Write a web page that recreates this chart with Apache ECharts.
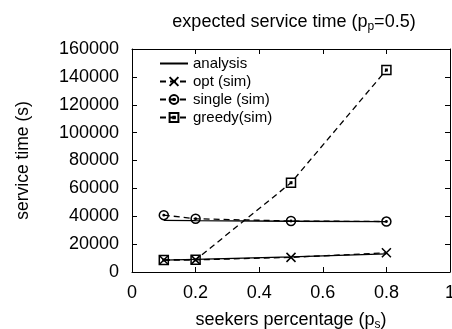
<!DOCTYPE html>
<html>
<head>
<meta charset="utf-8">
<script src="https://cdn.jsdelivr.net/npm/echarts@6/dist/echarts.min.js"></script>
<style>
  html, body { margin: 0; padding: 0; background: #fff; }
  #chart { width: 452px; height: 329px; }
</style>
</head>
<body>
<div id="chart"></div>
<script>
// 数据
var seekers = [0.1, 0.2, 0.5, 0.8];
var analysisHigh = [37000, 36800, 36400, 36200];
var analysisLow = [8500, 9000, 10800, 13000];
var optSim = [8600, 8700, 10500, 13800];
var singleSim = [40800, 38200, 36600, 36200];
var greedySim = [8600, 8700, 64000, 145000];

var FONT = 'Liberation Sans';

function pairs(values) {
  return seekers.map(function (x, i) { return [x, values[i]]; });
}

// 标记形状
var crossSym = 'path://M0,0L10,10M10,0L0,10';
var circleSym = 'path://M10,5A5,5 0 1,1 0,5A5,5 0 1,1 10,5Z M5.8,5A0.8,0.8 0 1,1 4.2,5A0.8,0.8 0 1,1 5.8,5Z';
var squareSym = 'path://M0,0H10V10H0Z M4.2,4.2H5.8V5.8H4.2Z';

function simSeries(name, values, symbol) {
  return {
    name: name,
    type: 'line',
    data: pairs(values),
    symbol: symbol,
    symbolSize: 9,
    showAllSymbol: true,
    lineStyle: { color: '#000', width: 1.3, type: [6, 4] },
    itemStyle: { color: 'none', borderColor: '#000', borderWidth: 1.5 },
    emphasis: { disabled: true },
    z: 3
  };
}

function analysisSeries(values) {
  return {
    name: 'analysis',
    type: 'line',
    data: pairs(values),
    symbol: 'none',
    lineStyle: { color: '#000', width: 1.3, type: 'solid' },
    itemStyle: { color: '#000' },
    emphasis: { disabled: true },
    z: 2
  };
}

function axisLine() {
  return { show: true, onZero: false, lineStyle: { color: '#000', width: 1 } };
}
function tick() {
  return { show: true, inside: true, length: 5, lineStyle: { color: '#000', width: 1 } };
}

var chart = echarts.init(document.getElementById('chart'));
var labelStyle = { color: '#000', fontFamily: FONT, fontSize: 18 };
var subRich = {
  a: { fontFamily: FONT, fontSize: 18, fontWeight: 'normal', color: '#000', lineHeight: 22 },
  s: { fontFamily: FONT, fontSize: 12, fontWeight: 'normal', color: '#000', lineHeight: 13, verticalAlign: 'bottom' }
};

chart.setOption({
  animation: false,
  backgroundColor: '#fff',
  title: {
    text: '{a|expected service time (p}{s|p}{a|=0.5)}',
    left: 289,
    top: 6,
    textAlign: 'center',
    textStyle: { fontWeight: 'normal', rich: subRich }
  },
  grid: { left: 132, right: 2, top: 49, bottom: 57, outerBoundsMode: 'none', containLabel: false },
  legend: {
    orient: 'vertical',
    left: 154,
    top: 51,
    itemWidth: 28,
    itemHeight: 11,
    itemGap: 3,
    textStyle: { fontFamily: FONT, fontSize: 15, color: '#000', padding: [0, 0, 0, 0] },
    data: [
      { name: 'analysis', itemStyle: { opacity: 0 } },
      'opt (sim)', 'single (sim)', 'greedy(sim)'
    ]
  },
  xAxis: [{
    type: 'value',
    min: 0, max: 1, interval: 0.2,
    position: 'bottom',
    axisLine: axisLine(),
    axisTick: tick(),
    splitLine: { show: false },
    axisLabel: Object.assign({ margin: 12 }, labelStyle),
    name: '{a|seekers percentage (p}{s|s}{a|)}',
    nameLocation: 'middle',
    nameGap: 37,
    nameTextStyle: { rich: subRich }
  }, {
    type: 'value',
    min: 0, max: 1, interval: 0.2,
    position: 'top',
    axisLine: axisLine(),
    axisTick: tick(),
    splitLine: { show: false },
    axisLabel: { show: false }
  }],
  yAxis: [{
    type: 'value',
    min: 0, max: 160000, interval: 20000,
    position: 'left',
    axisLine: axisLine(),
    axisTick: tick(),
    splitLine: { show: false },
    axisLabel: Object.assign({ margin: 13, formatter: function (v) { return String(v); } }, labelStyle),
    name: 'service time (s)',
    nameLocation: 'middle',
    nameGap: 100,
    nameTextStyle: { fontFamily: FONT, fontSize: 17.5, color: '#000' }
  }, {
    type: 'value',
    min: 0, max: 160000, interval: 20000,
    position: 'right',
    axisLine: axisLine(),
    axisTick: tick(),
    splitLine: { show: false },
    axisLabel: { show: false }
  }],
  series: [
    analysisSeries(analysisHigh),
    analysisSeries(analysisLow),
    simSeries('opt (sim)', optSim, crossSym),
    simSeries('single (sim)', singleSim, circleSym),
    simSeries('greedy(sim)', greedySim, squareSym)
  ]
});
</script>
</body>
</html>
